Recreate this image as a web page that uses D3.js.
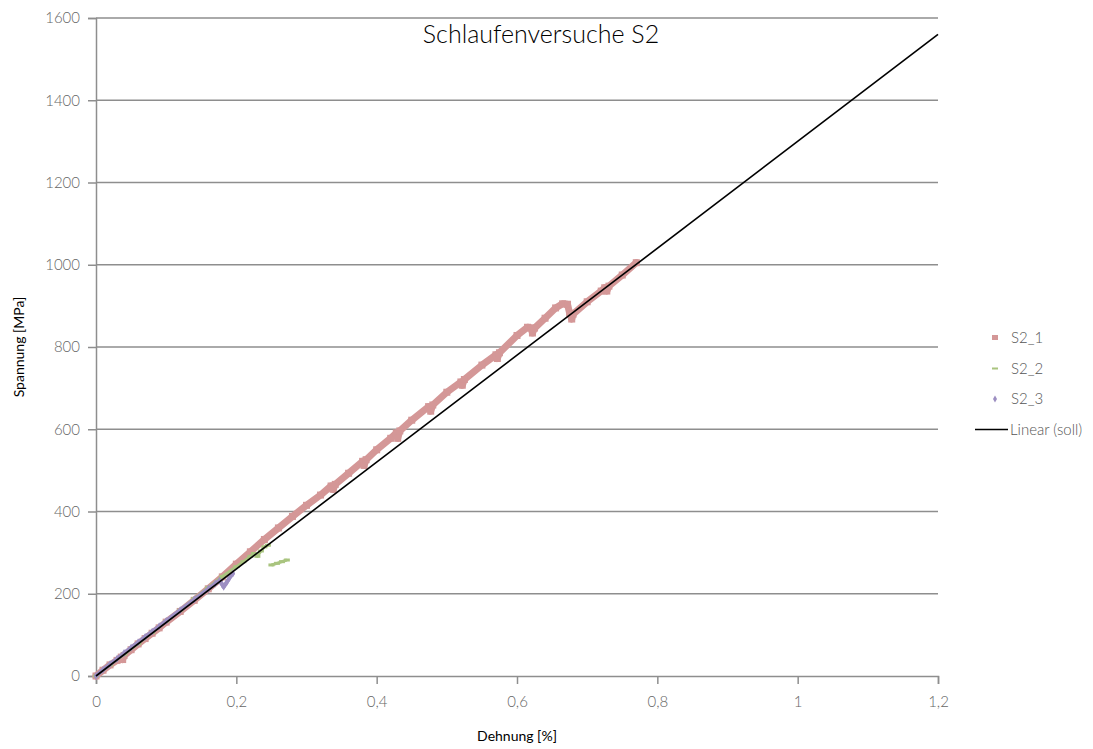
<!DOCTYPE html>
<html>
<head>
<meta charset="utf-8">
<script src="https://cdn.jsdelivr.net/npm/d3@7"></script>
<style>
  body { margin: 0; background: #fff; }
  svg { font-family: Lato, "Open Sans", sans-serif; }
</style>
</head>
<body>
<svg id="chart" width="1093" height="749"></svg>
<script>
// data: [Dehnung %, Spannung MPa]
const s2_1 = [
  [0,0],[0.01,14],[0.02,27],[0.03,38],[0.036,46],[0.038,40],[0.04,50],[0.05,64],[0.06,78],
  [0.07,91],[0.08,104],[0.09,117],[0.1,131],[0.12,157],[0.14,184],[0.16,212],[0.18,241],
  [0.2,272],[0.22,302],[0.24,332],[0.26,360],[0.28,388],[0.3,415],[0.32,440],[0.335,462],
  [0.338,454],[0.341,466],[0.36,493],[0.38,522],[0.382,512],[0.385,526],[0.4,550],[0.42,578],
  [0.428,591],[0.43,578],[0.433,596],[0.45,622],[0.474,655],[0.477,644],[0.48,659],[0.5,690],
  [0.52,715],[0.522,707],[0.525,721],[0.55,756],[0.57,781],[0.572,772],[0.575,786],[0.6,828],
  [0.615,848],[0.62,846],[0.622,834],[0.625,846],[0.64,870],[0.655,895],[0.665,905],[0.672,904],
  [0.675,882],[0.678,868],[0.68,880],[0.7,910],[0.72,936],[0.725,944],[0.728,936],[0.731,948],
  [0.75,975],[0.77,1005]
];
const s2_2 = [
  [0,0],[0.02,27],[0.04,53],[0.06,79],[0.08,106],[0.1,133],[0.12,160],[0.14,188],[0.16,215],
  [0.18,242],[0.2,266],[0.21,278],[0.22,291],[0.225,298],[0.23,291],[0.235,304],[0.24,314],[0.245,318]
];
const s2_2b = [[0.25,270],[0.258,274],[0.265,278],[0.272,282]];
const s2_3 = [
  [0,0],[0.01,15],[0.02,29],[0.03,42],[0.04,56],[0.05,69],[0.06,82],[0.07,95],[0.08,108],
  [0.09,121],[0.1,134],[0.12,160],[0.14,186],[0.16,212],[0.17,225],[0.176,232],[0.18,222],
  [0.182,217],[0.186,227],[0.19,238],[0.195,249]
];
const linearX = [0, 1.2];
const linearY = [0, 1560];

const xTicks = [0, 0.2, 0.4, 0.6, 0.8, 1, 1.2];
const yTicks = [0, 200, 400, 600, 800, 1000, 1200, 1400, 1600];
const legendNames = ["S2_1", "S2_2", "S2_3", "Linear (soll)"];
const colors = ["#d49797", "#a9c47f", "#9d8fc2", "#000"];

const svg = d3.select("#chart");
const mLeft = 96, mRight = 938, mTop = 18, mBottom = 676;

const x = d3.scaleLinear().domain([0, 1.2]).range([mLeft, mRight]);
const y = d3.scaleLinear().domain([0, 1600]).range([mBottom, mTop]);
const fmt = d => String(d).replace(".", ",");

// gridlines
svg.append("g")
  .selectAll("line")
  .data(yTicks.slice(1))
  .join("line")
    .attr("x1", mLeft).attr("x2", mRight)
    .attr("y1", d => y(d)).attr("y2", d => y(d))
    .attr("stroke", "#8e8e8e").attr("stroke-width", 1.5);

// axes
const yAxis = svg.append("g")
  .attr("transform", `translate(${mLeft},0)`)
  .call(d3.axisLeft(y).tickValues(yTicks).tickSize(8).tickPadding(8).tickFormat(fmt));
const xAxis = svg.append("g")
  .attr("transform", `translate(0,${mBottom})`)
  .call(d3.axisBottom(x).tickValues(xTicks).tickSize(8).tickPadding(12).tickFormat(fmt));
[yAxis, xAxis].forEach(a => {
  a.select(".domain").attr("stroke", "#8e8e8e").attr("stroke-width", 1.5);
  a.selectAll(".tick line").attr("stroke", "#8e8e8e").attr("stroke-width", 1.5);
  a.selectAll("text").attr("fill", "#666").style("font-size", "15px")
    .style("font-family", "Lato, sans-serif").style("font-weight", 300);
});

const line = d3.line().x(d => x(d[0])).y(d => y(d[1]));

// S2_1: thick band of square markers
svg.append("path").datum(s2_1).attr("d", line)
  .attr("fill", "none").attr("stroke", colors[0]).attr("stroke-width", 7)
  .attr("stroke-linejoin", "round").attr("stroke-linecap", "round");
svg.append("g").selectAll("rect").data(s2_1).join("rect")
  .attr("x", d => x(d[0]) - 3.5).attr("y", d => y(d[1]) - 3.5)
  .attr("width", 7).attr("height", 7).attr("fill", colors[0]);

// S2_2: dash markers
[s2_2, s2_2b].forEach(seg => {
  svg.append("path").datum(seg).attr("d", line)
    .attr("fill", "none").attr("stroke", colors[1]).attr("stroke-width", 3)
    .attr("stroke-linejoin", "round");
});
svg.append("g").selectAll("rect").data(s2_2.concat(s2_2b)).join("rect")
  .attr("x", d => x(d[0]) - 3).attr("y", d => y(d[1]) - 1.5)
  .attr("width", 6).attr("height", 3).attr("fill", colors[1]);

// S2_3: small diamonds
svg.append("path").datum(s2_3).attr("d", line)
  .attr("fill", "none").attr("stroke", colors[2]).attr("stroke-width", 4)
  .attr("stroke-linejoin", "round").attr("stroke-linecap", "round");
svg.append("g").selectAll("path").data(s2_3).join("path")
  .attr("d", d3.symbol().type(d3.symbolDiamond).size(18))
  .attr("transform", d => `translate(${x(d[0])},${y(d[1])})`)
  .attr("fill", colors[2]);

// linear (soll)
svg.append("path").datum(linearX.map((v, i) => [v, linearY[i]])).attr("d", line)
  .attr("fill", "none").attr("stroke", "#000").attr("stroke-width", 1.6);

// title
svg.append("text").attr("x", 541).attr("y", 43).attr("text-anchor", "middle")
  .style("font-size", "25px").style("font-weight", 300).attr("fill", "#000")
  .text("Schlaufenversuche S2");

// axis titles
svg.append("text").attr("x", 517).attr("y", 741).attr("text-anchor", "middle")
  .style("font-size", "14px").attr("fill", "#000").text("Dehnung [%]");
svg.append("text").attr("transform", "translate(24,347) rotate(-90)")
  .attr("text-anchor", "middle").style("font-size", "14px").attr("fill", "#000")
  .text("Spannung [MPa]");

// legend
const lg = svg.append("g").selectAll("g").data(legendNames).join("g")
  .attr("transform", (d, i) => `translate(0,${338 + i * 30.5})`);
lg.each(function(d, i) {
  const g = d3.select(this);
  if (i === 0) g.append("rect").attr("x", 992).attr("y", -3).attr("width", 6).attr("height", 5).attr("fill", colors[0]);
  if (i === 1) g.append("rect").attr("x", 992).attr("y", -1).attr("width", 6).attr("height", 2).attr("fill", colors[1]);
  if (i === 2) g.append("path").attr("d", d3.symbol().type(d3.symbolDiamond).size(14)).attr("transform", "translate(995,0)").attr("fill", colors[2]);
  if (i === 3) g.append("line").attr("x1", 975).attr("x2", 1008).attr("stroke", "#000").attr("stroke-width", 1.6);
  g.append("text").attr("x", i === 3 ? 1010 : 1011).attr("y", 5)
    .style("font-size", "15px").style("font-weight", 300).attr("fill", "#555").text(d);
});
</script>
</body>
</html>
